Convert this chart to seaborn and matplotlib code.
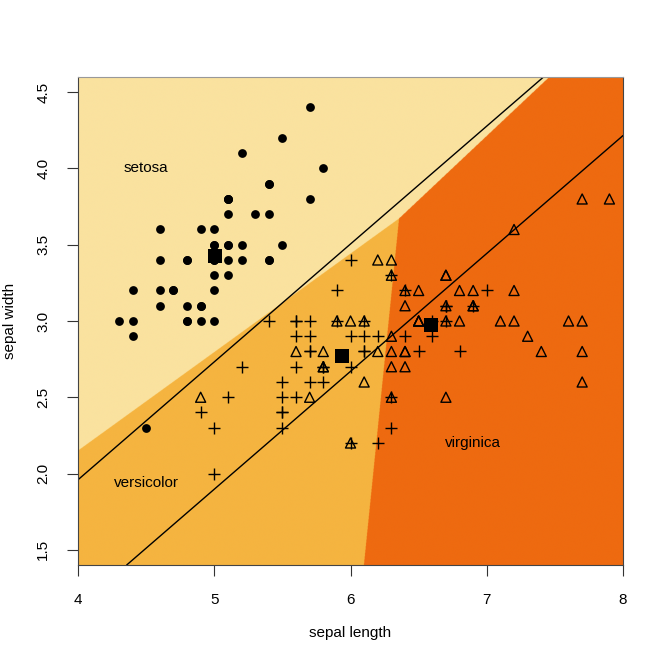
import matplotlib
matplotlib.use("Agg")
import matplotlib.pyplot as plt
from matplotlib.colors import ListedColormap
import numpy as np
import pandas as pd
import seaborn as sns

# iris sepal measurements (R's datasets::iris)
setosa_length = [5.1, 4.9, 4.7, 4.6, 5.0, 5.4, 4.6, 5.0, 4.4, 4.9, 5.4, 4.8, 4.8, 4.3, 5.8, 5.7, 5.4,
                 5.1, 5.7, 5.1, 5.4, 5.1, 4.6, 5.1, 4.8, 5.0, 5.0, 5.2, 5.2, 4.7, 4.8, 5.4, 5.2, 5.5,
                 4.9, 5.0, 5.5, 4.9, 4.4, 5.1, 5.0, 4.5, 4.4, 5.0, 5.1, 4.8, 5.1, 4.6, 5.3, 5.0]
setosa_width = [3.5, 3.0, 3.2, 3.1, 3.6, 3.9, 3.4, 3.4, 2.9, 3.1, 3.7, 3.4, 3.0, 3.0, 4.0, 4.4, 3.9,
                3.5, 3.8, 3.8, 3.4, 3.7, 3.6, 3.3, 3.4, 3.0, 3.4, 3.5, 3.4, 3.2, 3.1, 3.4, 4.1, 4.2,
                3.1, 3.2, 3.5, 3.6, 3.0, 3.4, 3.5, 2.3, 3.2, 3.5, 3.8, 3.0, 3.8, 3.2, 3.7, 3.3]
versicolor_length = [7.0, 6.4, 6.9, 5.5, 6.5, 5.7, 6.3, 4.9, 6.6, 5.2, 5.0, 5.9, 6.0, 6.1, 5.6, 6.7,
                     5.6, 5.8, 6.2, 5.6, 5.9, 6.1, 6.3, 6.1, 6.4, 6.6, 6.8, 6.7, 6.0, 5.7, 5.5, 5.5,
                     5.8, 6.0, 5.4, 6.0, 6.7, 6.3, 5.6, 5.5, 5.5, 6.1, 5.8, 5.0, 5.6, 5.7, 5.7, 6.2,
                     5.1, 5.7]
versicolor_width = [3.2, 3.2, 3.1, 2.3, 2.8, 2.8, 3.3, 2.4, 2.9, 2.7, 2.0, 3.0, 2.2, 2.9, 2.9, 3.1,
                    3.0, 2.7, 2.2, 2.5, 3.2, 2.8, 2.5, 2.8, 2.9, 3.0, 2.8, 3.0, 2.9, 2.6, 2.4, 2.4,
                    2.7, 2.7, 3.0, 3.4, 3.1, 2.3, 3.0, 2.5, 2.6, 3.0, 2.6, 2.3, 2.7, 3.0, 2.9, 2.9,
                    2.5, 2.8]
virginica_length = [6.3, 5.8, 7.1, 6.3, 6.5, 7.6, 4.9, 7.3, 6.7, 7.2, 6.5, 6.4, 6.8, 5.7, 5.8, 6.4,
                    6.5, 7.7, 7.7, 6.0, 6.9, 5.6, 7.7, 6.3, 6.7, 7.2, 6.2, 6.1, 6.4, 7.2, 7.4, 7.9,
                    6.4, 6.3, 6.1, 7.7, 6.3, 6.4, 6.0, 6.9, 6.7, 6.9, 5.8, 6.8, 6.7, 6.7, 6.3, 6.5,
                    6.2, 5.9]
virginica_width = [3.3, 2.7, 3.0, 2.9, 3.0, 3.0, 2.5, 2.9, 2.5, 3.6, 3.2, 2.7, 3.0, 2.5, 2.8, 3.2,
                   3.0, 3.8, 2.6, 2.2, 3.2, 2.8, 2.8, 2.7, 3.3, 3.2, 2.8, 3.0, 2.8, 3.0, 2.8, 3.8,
                   2.8, 2.8, 2.6, 3.0, 3.4, 3.1, 3.0, 3.1, 3.1, 3.1, 2.7, 3.2, 3.3, 3.0, 2.5, 3.0,
                   3.4, 3.0]

species = ["setosa", "versicolor", "virginica"]
region_colors = ["#FAE29F", "#F5B440", "#EE6A10"]
label_x = [4.5, 4.5, 6.9]
label_y = [4.0, 1.94, 2.2]
line_intercepts = [-1.133, -1.968]
line_slope = 0.773

df = pd.DataFrame({
    "length": setosa_length + versicolor_length + virginica_length,
    "width": setosa_width + versicolor_width + virginica_width,
    "species": ["setosa"] * 50 + ["versicolor"] * 50 + ["virginica"] * 50,
})

# linear discriminant analysis with pooled covariance, equal priors
means = df.groupby("species")[["length", "width"]].mean().loc[species]
resid = df[["length", "width"]].values - means.loc[df["species"]].values
pooled = resid.T @ resid / (len(df) - len(species))
inv = np.linalg.inv(pooled)

gx = np.linspace(4, 8, 1600)
gy = np.linspace(1.4, 4.6, 1400)
XX, YY = np.meshgrid(gx, gy)
pts = np.column_stack([XX.ravel(), YY.ravel()])
mu = means.values
scores = pts @ inv @ mu.T - 0.5 * np.sum(mu @ inv * mu, axis=1)
cls = scores.argmax(axis=1).reshape(XX.shape)

sns.set_style("ticks")
plt.rcParams["font.family"] = ["Liberation Sans", "DejaVu Sans"]
plt.rcParams["text.color"] = "black"
plt.rcParams["axes.labelcolor"] = "black"
plt.rcParams["xtick.color"] = "black"
plt.rcParams["ytick.color"] = "black"

fig = plt.figure(figsize=(6.64, 6.63), dpi=100)
ax = fig.add_axes([0.1175, 0.1478, 0.8208, 0.7361])

ax.imshow(cls, extent=[4, 8, 1.4, 4.6], origin="lower", aspect="auto",
          cmap=ListedColormap(region_colors), interpolation="antialiased", vmin=0, vmax=2)

for b in line_intercepts:
    ax.axline((0, b), slope=line_slope, color="black", linewidth=1)

sns.scatterplot(data=df[df["species"] == "setosa"], x="length", y="width", ax=ax,
                marker="o", color="black", s=40, linewidth=0, legend=False)
sns.scatterplot(data=df[df["species"] == "versicolor"], x="length", y="width", ax=ax,
                marker="+", color="black", s=64, linewidth=1, legend=False)
sns.scatterplot(data=df[df["species"] == "virginica"], x="length", y="width", ax=ax,
                marker="^", color="black", facecolor="none", edgecolor="black",
                s=52, linewidth=1, legend=False)
sns.scatterplot(x=means["length"].values, y=means["width"].values, ax=ax,
                marker="s", color="black", s=95, linewidth=0, legend=False)

for name, lx, ly in zip(species, label_x, label_y):
    ax.text(lx, ly, name, ha="center", va="center", fontsize=11)

ax.set_xlim(4, 8)
ax.set_ylim(1.4, 4.6)
ax.set_xticks([4, 5, 6, 7, 8])
ax.set_yticks([1.5, 2.0, 2.5, 3.0, 3.5, 4.0, 4.5])
ax.set_yticklabels(["1.5", "2.0", "2.5", "3.0", "3.5", "4.0", "4.5"], rotation=90, va="center")
ax.tick_params(length=8, width=0.8, color="#333333", labelsize=11, pad=12)
ax.set_xlabel("sepal length", fontsize=11, labelpad=14)
ax.set_ylabel("sepal width", fontsize=11, labelpad=14)
for side in ["left", "bottom", "right"]:
    ax.spines[side].set_color("#444444")
    ax.spines[side].set_linewidth(0.8)
ax.spines["top"].set_color("#999999")
ax.spines["top"].set_linewidth(0.8)

fig.savefig("out.png", dpi=100)
